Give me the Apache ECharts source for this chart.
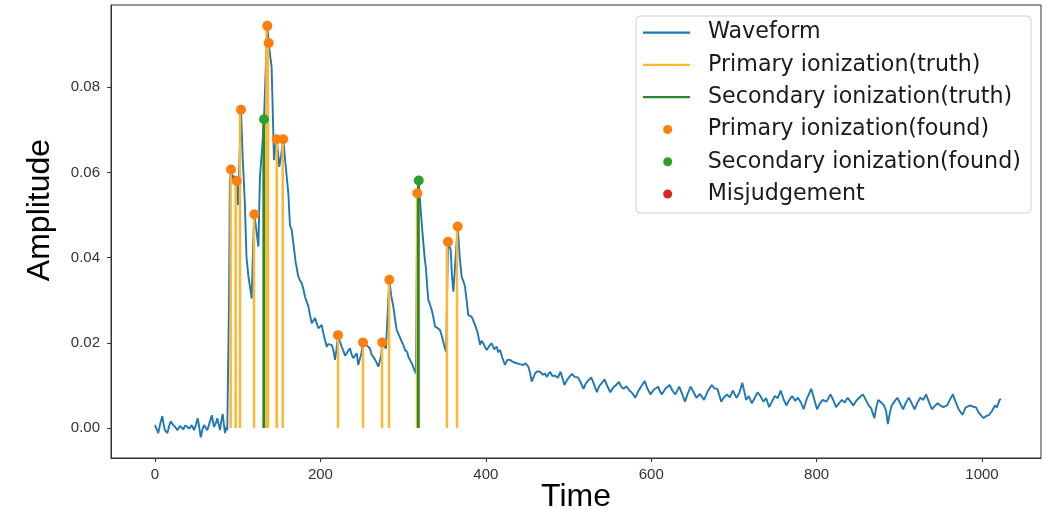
<!DOCTYPE html>
<html><head><meta charset="utf-8">
<script src="https://cdn.jsdelivr.net/npm/echarts@6/dist/echarts.min.js"></script>
<style>html,body{margin:0;padding:0;background:#fff}#c{width:1043px;height:509px}</style>
</head><body><div id="c"></div>
<script>
// ---- data ----
const waveform = [
[0,0.0007],[2,0.0011],[4,-0.0012],[6.5,0.0012],[8.9,0.0028],[10.5,0.0008],[12,-0.0005],[15,-0.0012],[17,0.0004],[19,0.0016],[21.5,0.0008],[24.2,0.0003],[27,-0.0005],[30.2,0.0005],[32,0.0001],[34.2,-0.0003],[36.5,0.0006],[39,0.0003],[41.5,-0.0002],[44.4,0.0007],[47.2,-0.0005],[49.5,0.0008],[51.6,0.0023],[53.5,0.0002],[55.3,-0.0022],[57.3,-0.0004],[59.3,0.0007],[61.2,0.0001],[63.2,-0.0005],[66,0.0012],[68.6,0.003],[71.3,0.0003],[73.3,0.0010],[75.3,0.0023],[78.6,-0.0005],[80,0.0015],[81.8,0.0033],[84.6,-0.0012],[86,0.0002],[87.4,-0.0005],[88.6,-0.0008],
[89.5,0.03],[90.5,0.058],[91.9,0.0607],[94,0.0585],[96,0.0592],[98.8,0.058],[100.3,0.0523],[102,0.062],[104,0.0747],[106,0.0635],[108.5,0.0535],[110.6,0.0402],[113,0.0355],[115,0.033],[116.9,0.0304],[118.5,0.042],[120.1,0.0502],[122.5,0.0465],[125,0.0426],[126.9,0.059],[129.5,0.0655],[131.8,0.0725],[133.5,0.082],[135.8,0.0944],[137.5,0.0904],[139.5,0.087],[141,0.0848],[143.9,0.0629],[145.5,0.066],[147.2,0.0678],[150.3,0.0613],[152.5,0.064],[155.1,0.0678],[158,0.0615],[161.2,0.0551],[163.2,0.0475],[165.3,0.0465],[167.3,0.0434],[170,0.039],[173.3,0.0355],[175.3,0.0347],[177.4,0.034],[179.5,0.0325],[181.4,0.0308],[183.4,0.0308],[185.5,0.0285],[187.4,0.0265],[189.5,0.0246],[191.4,0.0248],[193.5,0.0258],[195.5,0.0254],[197.5,0.0234],[199.5,0.0238],[201.6,0.0242],[203.6,0.0222],[205.6,0.0226],[207.6,0.0191],[209.5,0.0197],[211.6,0.0199],[213.7,0.0195],[215.6,0.0183],[217.7,0.016],[219.5,0.0185],[221.4,0.0218],[223.5,0.0203],[225.7,0.0191],[228,0.018],[229.8,0.017],[231.8,0.0175],[233.8,0.0182],[235.8,0.0187],[237.8,0.0172],[239.8,0.0164],[241.8,0.0170],[243.9,0.0175],[245.7,0.0148],[247.9,0.0152],[249.5,0.0175],[251.5,0.0201],[254.5,0.0196],[257.9,0.0191],[260,0.0186],[262,0.0172],[264,0.0167],[266,0.0161],[268,0.0153],[270,0.0144],[272.2,0.0140],[273.5,0.017],[274.8,0.0201],[277,0.0192],[279.3,0.0187],[281.3,0.0190],[283.3,0.0348],[285.7,0.031],[288.2,0.0285],[290.3,0.0255],[292.3,0.023],[295,0.0218],[298.3,0.0203],[300.3,0.0195],[302.3,0.0183],[305,0.0178],[306.5,0.0166],[308.3,0.016],[311,0.0150],[313.6,0.0136],[315.6,0.0128],[317.2,0.0551],[318.9,0.058],[320.4,0.0535],[322.5,0.048],[324.5,0.0434],[326,0.04],[327.8,0.0371],[329,0.0335],[330.5,0.030],[332.5,0.0290],[334.6,0.0277],[336.6,0.0260],[338.6,0.0238],[341.5,0.0235],[344.6,0.023],[347,0.0215],[349.5,0.0195],[352,0.0178],[354.3,0.0437],[357.5,0.0418],[359,0.036],[360.8,0.032],[363.5,0.040],[366,0.0473],[368.5,0.040],[370.8,0.0355],[372.8,0.0345],[374.8,0.0332],[376.8,0.030],[378.8,0.0265],[380.8,0.0268],[382.9,0.0261],[384.9,0.0252],[386.9,0.0242],[390,0.0225],[393,0.0195],[395,0.0205],[397,0.0199],[399,0.0190],[401.1,0.0183],[404,0.0192],[407.1,0.0199],[410,0.0185],[413.2,0.0191],[415,0.0178],[417.2,0.0183],
[420,0.0165],[423.2,0.0148],[426,0.0160],[429.3,0.016],[433,0.0155],[437.3,0.0152],[441,0.0150],[445.4,0.0148],[448,0.0152],[451.4,0.0144],[453.5,0.0130],[455.5,0.0109],[457.5,0.0118],[459.5,0.0128],[462,0.0133],[465.5,0.0132],[469,0.0125],[471.5,0.0128],[473.6,0.012],[477.6,0.0132],[480.5,0.0122],[483.5,0.0123],[487,0.0118],[490.4,0.0132],[493,0.0115],[495,0.0101],[498,0.0112],[501,0.0120],[504.2,0.0127],[507.5,0.0120],[511.2,0.0119],[514.5,0.0108],[518.1,0.0092],[521,0.0105],[524,0.0112],[527.4,0.0119],[531,0.0102],[534.3,0.0084],[537,0.0098],[540,0.0105],[543.6,0.0114],[547,0.0098],[550.6,0.0084],[554,0.0095],[557.5,0.0101],[561,0.0108],[564,0.0096],[566.7,0.0092],[570,0.0098],[573.7,0.0088],[577,0.0082],[580.6,0.0071],[584,0.0085],[588,0.0098],[592.2,0.011],[595.5,0.0092],[599.1,0.0079],[603,0.0090],[608.4,0.0097],[610.5,0.0086],[613,0.0079],[617,0.0092],[622.3,0.0101],[625.5,0.0088],[629.2,0.0079],[633.9,0.0097],[637,0.0082],[640.8,0.0062],[644,0.0080],[647.7,0.0097],[651,0.0085],[654.7,0.0071],[659,0.0080],[663.9,0.0066],[668,0.0085],[673.1,0.0101],[676.5,0.0093],[680,0.0092],[684.7,0.0062],[688,0.0072],[691.6,0.0079],[695,0.0072],[698.6,0.0088],[703.2,0.0071],[706.5,0.0082],[710.2,0.0106],[714.8,0.0066],[718,0.0075],[721.7,0.0058],[725,0.0070],[728.7,0.0084],[732,0.0075],[735.6,0.0062],[739,0.0070],[742.6,0.0049],[746,0.0062],[749.5,0.0075],[753,0.0070],[756.5,0.0088],[760,0.0068],[763.4,0.0053],[767,0.0066],[770.4,0.0075],[774,0.0064],[777.3,0.0071],[781,0.0060],[784.3,0.0044],[788,0.0068],[793.5,0.0092],[797,0.0068],[800.5,0.0044],[804,0.0058],[807.4,0.0066],[812,0.0062],[816.7,0.0079],[820,0.0066],[823.6,0.0049],[827,0.0058],[830.5,0.0066],[834,0.0060],[837.5,0.0071],[841,0.0062],[844.4,0.0053],[848,0.0064],[851.4,0.0071],[856,0.0079],[859.5,0.0066],[862.9,0.0053],[866,0.0046],[869.9,0.0023],[872,0.0048],[874.5,0.0066],[878,0.0060],[881.4,0.0053],[884,0.0040],[886.1,0.0009],[888.5,0.0035],[890.7,0.0053],[894,0.0062],[897.6,0.0071],[901,0.0058],[904.6,0.0044],[908,0.0060],[911.5,0.0071],[915,0.0058],[918.5,0.0044],[922,0.0060],[925.4,0.0071],[929,0.0066],[932.3,0.0079],[936,0.0060],[939.3,0.0044],[943,0.0052],[946.2,0.0058],[949.5,0.0053],[953.2,0.0049],[957.8,0.0053],[961,0.0066],[964.7,0.0079],[968,0.0062],[971.7,0.0044],[976.3,0.0031],[980,0.0048],[985.6,0.0053],[989,0.0050],[992.5,0.0049],[996,0.0036],[1001.7,0.0023],[1005,0.0028],[1008.7,0.0031],[1012,0.0040],[1015.6,0.0053],[1018,0.0048],[1021.2,0.0066],[1023,0.0068]
];
const primaryTruthT = [91.5, 97.5, 102.8, 119.7, 134.8, 136.6, 147.2, 154.4, 221.3, 251.5, 274.5, 283.0, 316.8, 353.0, 365.2];
const primaryTruthH = [0.0607, 0.0582, 0.0747, 0.0502, 0.0944, 0.0904, 0.0678, 0.0678, 0.0218, 0.0201, 0.0201, 0.0348, 0.0551, 0.0437, 0.0473];
const secondaryTruthT = [131.5, 318.5];
const secondaryTruthH = [0.0725, 0.058];
const primaryFoundT = [91.9, 98.8, 104.0, 120.1, 135.8, 137.5, 147.2, 155.1, 221.3, 251.5, 274.8, 283.3, 317.2, 354.3, 366.0];
const primaryFoundV = [0.0607, 0.058, 0.0747, 0.0502, 0.0944, 0.0904, 0.0678, 0.0678, 0.0218, 0.0201, 0.0201, 0.0348, 0.0551, 0.0437, 0.0473];
const secondaryFoundT = [131.8, 318.9];
const secondaryFoundV = [0.0725, 0.0581];
const misjudgeT = [];
const misjudgeV = [];
const xTicks = [0, 200, 400, 600, 800, 1000];
const yTicks = [0, 0.02, 0.04, 0.06, 0.08];
const seriesNames = ['Waveform','Primary ionization(truth)','Secondary ionization(truth)','Primary ionization(found)','Secondary ionization(found)','Misjudgement'];

// ---- build ----
function vlines(ts, hs){ const out=[]; ts.forEach((t,i)=>{ out.push([t,0],[t,hs[i]],[t,'-']); }); return out; }
function pts(ts, vs){ return ts.map((t,i)=>[t, vs[i]]); }

const chart = echarts.init(document.getElementById('c'), null, {renderer:'canvas'});
const legendText = {fontFamily:'DejaVu Sans', fontSize:22.2, color:'#1a1a1a', lineHeight:24};
const axisLabelStyle = {fontFamily:'Liberation Sans', fontSize:15, color:'#333'};
chart.setOption({
  animation:false,
  backgroundColor:'#fff',
  grid:{left:111, right:2, top:5, bottom:51, show:true, borderColor:'#333', borderWidth:1, containLabel:false, outerBoundsMode:'none'},
  xAxis:{type:'value', min:-53.2, max:1071.3,
    name:'Time', nameLocation:'middle', nameGap:23, nameMoveOverlap:false,
    nameTextStyle:{fontFamily:'Liberation Sans', fontSize:32, color:'#000'},
    axisLine:{show:true, onZero:false, lineStyle:{color:'#333', width:1}},
    axisTick:{show:true, length:4, customValues:xTicks, lineStyle:{color:'#333'}},
    axisLabel:Object.assign({margin:9, customValues:xTicks, formatter:v=>String(v)}, axisLabelStyle),
    splitLine:{show:false}},
  yAxis:{type:'value', min:-0.00704, max:0.0993,
    name:'Amplitude', nameLocation:'middle', nameGap:55, nameMoveOverlap:false,
    nameTextStyle:{fontFamily:'Liberation Sans', fontSize:32, color:'#000', padding:[0,0,0,43]},
    axisLine:{show:true, onZero:false, lineStyle:{color:'#333', width:1}},
    axisTick:{show:true, length:4, customValues:yTicks, lineStyle:{color:'#333'}},
    axisLabel:Object.assign({margin:11, customValues:yTicks, formatter:v=>v.toFixed(2)}, axisLabelStyle),
    splitLine:{show:false}},
  graphic:[{type:'rect', z:3, shape:{x:636, y:16, width:395, height:197, r:4}, style:{fill:'#fff', stroke:'#cfcfcf', lineWidth:1}}],
  legend:[
    {data:seriesNames.slice(0,3), orient:'vertical', left:643, top:20.7, icon:'rect', itemWidth:47, itemHeight:2.2, itemGap:8.25, padding:0, selectedMode:false, z:5,
     textStyle:Object.assign({padding:[0,0,0,13]}, legendText)},
    {data:seriesNames.slice(3), orient:'vertical', left:663.2, top:117.5, itemWidth:9, itemHeight:9, itemGap:8.25, padding:0, icon:'circle', selectedMode:false, z:5,
     itemStyle:{opacity:1},
     textStyle:Object.assign({padding:[0,0,0,30.5]}, legendText)}
  ],
  series:[
    {name:seriesNames[0], type:'line', data:waveform, symbol:'none', showSymbol:false, z:2,
     color:'#1f77b4', lineStyle:{color:'#1f77b4', width:1.9}},
    {name:seriesNames[1], type:'line', data:vlines(primaryTruthT, primaryTruthH), symbol:'none', showSymbol:false, connectNulls:false, z:3,
     color:'#ffb630', lineStyle:{color:'#ffb630', width:2.5}},
    {name:seriesNames[2], type:'line', data:vlines(secondaryTruthT, secondaryTruthH), symbol:'none', showSymbol:false, connectNulls:false, z:4,
     color:'#2a8a2a', lineStyle:{color:'#2a8a2a', width:2.8}},
    {name:seriesNames[3], type:'scatter', data:pts(primaryFoundT, primaryFoundV), symbol:'circle', symbolSize:10, z:5,
     color:'#ff7f0e', itemStyle:{color:'#ff7f0e', opacity:1}},
    {name:seriesNames[4], type:'scatter', data:pts(secondaryFoundT, secondaryFoundV), symbol:'circle', symbolSize:10, z:6,
     color:'#2ca02c', itemStyle:{color:'#2ca02c', opacity:1}},
    {name:seriesNames[5], type:'scatter', data:pts(misjudgeT, misjudgeV), symbol:'circle', symbolSize:10, z:6,
     color:'#d62728', itemStyle:{color:'#d62728', opacity:1}}
  ]
});
</script></body></html>
